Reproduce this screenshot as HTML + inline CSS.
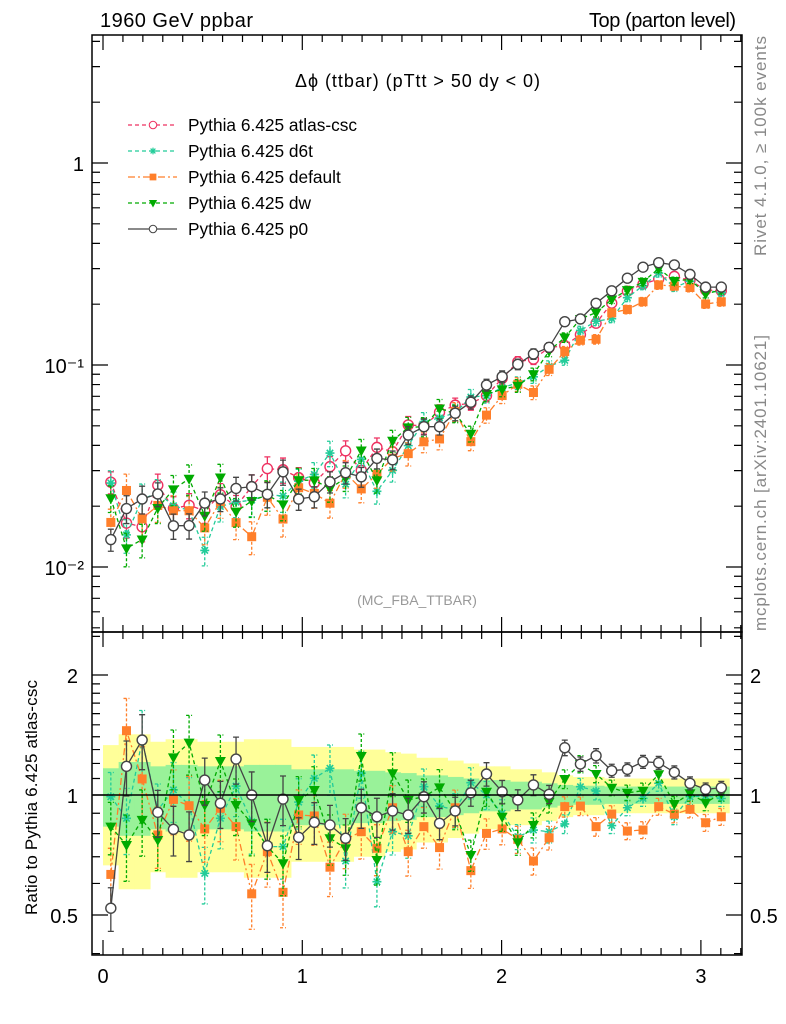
<!DOCTYPE html>
<html><head><meta charset="utf-8"><style>
html,body{margin:0;padding:0;background:#fff;}
svg{display:block;font-family:"Liberation Sans",sans-serif;}
</style></head><body>
<svg id="c" width="786" height="1024" viewBox="0 0 786 1024" xmlns="http://www.w3.org/2000/svg">
<defs>
<clipPath id="clipMain"><rect x="92" y="35" width="650" height="597"/></clipPath>
<clipPath id="clipRatio"><rect x="92" y="632" width="650" height="323"/></clipPath>
</defs>
<g id="bands" clip-path="url(#clipRatio)"></g>
<g id="marks"></g>
<g id="axes"></g>
<text x="100" y="27" font-size="20" textLength="153">1960 GeV ppbar</text>
<text x="589" y="27" font-size="20" textLength="147">Top (parton level)</text>
<text x="295" y="87" font-size="18" textLength="245">Δϕ (ttbar) (pTtt &gt; 50 dy &lt; 0)</text>
<text x="417" y="605" font-size="14" fill="#999" text-anchor="middle">(MC_FBA_TTBAR)</text>
<text transform="translate(766,256) rotate(-90)" font-size="17" fill="#888" textLength="220">Rivet 4.1.0, ≥ 100k events</text>
<text transform="translate(766,631) rotate(-90)" font-size="17" fill="#888" textLength="296">mcplots.cern.ch [arXiv:2401.10621]</text>
<text transform="translate(37,915) rotate(-90)" font-size="17" textLength="235">Ratio to Pythia 6.425 atlas-csc</text>
<g id="legend"></g>
</svg>
<script>
const categories = Array.from({length:40},(_,i)=>(i+0.5)*Math.PI/40);
const atlasValues = [0.0263,0.0165,0.0158,0.0254,0.0195,0.0202,0.019,0.0228,0.0199,0.025,0.0307,0.0303,0.0277,0.0261,0.0314,0.0376,0.0301,0.0391,0.0372,0.0505,0.050,0.0583,0.0633,0.0646,0.0705,0.0859,0.1037,0.107,0.1219,0.1247,0.1413,0.161,0.2024,0.2319,0.2517,0.2664,0.2746,0.2626,0.2352,0.233];
const atlasErr = [0.167,0.21,0.21,0.18,0.19,0.19,0.18,0.18,0.18,0.19,0.19,0.19,0.16,0.16,0.16,0.16,0.15,0.15,0.14,0.135,0.12,0.12,0.11,0.10,0.09,0.09,0.08,0.08,0.07,0.06,0.055,0.055,0.05,0.05,0.05,0.05,0.05,0.05,0.05,0.05];
const ratioP0 = [0.52,1.18,1.374,0.905,0.82,0.794,1.09,0.953,1.231,1.0,0.746,0.977,0.783,0.854,0.841,0.779,0.929,0.882,0.912,0.891,0.99,0.849,0.912,1.013,1.129,1.019,0.972,1.06,1.004,1.314,1.196,1.255,1.151,1.16,1.212,1.205,1.14,1.07,1.033,1.043];
const ratioDefault = [0.632,1.45,1.097,0.794,0.975,0.94,0.822,0.926,0.833,0.565,0.721,0.57,0.891,0.886,0.659,0.774,0.809,0.735,0.929,0.721,0.833,0.738,0.929,0.646,0.801,0.822,0.774,0.683,0.781,0.935,0.938,0.833,0.896,0.812,0.817,0.935,0.895,0.921,0.852,0.882];
const ratioDw = [0.833,0.749,0.866,0.771,1.243,1.353,0.944,1.217,0.944,0.849,0.742,0.674,0.972,1.029,0.779,0.735,1.253,0.687,1.134,0.972,0.99,1.045,0.908,0.707,1.019,0.882,0.761,0.841,0.962,1.097,1.196,1.129,1.043,1.013,1.025,1.127,0.949,1.01,0.956,1.01];
const ratioD6t = [0.99,0.874,1.37,0.917,1.03,0.944,0.636,0.874,1.053,0.857,0.742,0.742,0.96,1.101,1.167,0.683,1.134,0.606,0.809,0.79,1.049,0.938,0.917,1.074,1.0,0.9,0.786,0.817,0.809,0.846,1.049,1.023,0.838,0.929,0.981,1.07,0.882,0.99,0.995,0.98];
const xTickLabels = ["0","1","2","3"];
const mainTickLabels = ["10⁻²","10⁻¹","1"];
const ratioTickLabels = ["0.5","1","2"];

const NS="http://www.w3.org/2000/svg";
function el(tag, attrs, parent){const e=document.createElementNS(NS,tag);for(const k in attrs)e.setAttribute(k,attrs[k]);if(parent)parent.appendChild(e);return e;}
const X0=103, XS=199.3;
const xPx = v => X0 + v*XS;
const yMain = v => 163 - Math.log10(v)*202;
const yRatio = v => 795 - Math.log10(v)*398.6;
const L=92,R=742,T=35,MB=632,B=955;

const bands=document.getElementById('bands');
const hw=(Math.PI/40)*XS/2;
categories.forEach((c,i)=>{
  const e=atlasErr[i];
  const y1=el('rect',{x:xPx(c)-hw,width:2*hw+0.6,y:yRatio(1+2*e),height:yRatio(Math.max(1-2*e,0.05))-yRatio(1+2*e),fill:'#ffff99'},bands);
  
  
});
categories.forEach((c,i)=>{
  const e=atlasErr[i];
  const g1=el('rect',{x:xPx(c)-hw,width:2*hw+0.6,y:yRatio(1+e),height:yRatio(1-e)-yRatio(1+e),fill:'#99f299'},bands);
  
  
});

const series=[
 {name:'atlas-csc',ratio:null,color:'#ee3060',dash:'4,3',marker:'circle',ek:1.0,inRatio:false},
 {name:'d6t',ratio:ratioD6t,color:'#22cc99',dash:'4,3',marker:'star',ek:1.2,inRatio:true},
 {name:'default',ratio:ratioDefault,color:'#ff7f2a',dash:'7,3,2,3',marker:'square',ek:1.3,inRatio:true},
 {name:'dw',ratio:ratioDw,color:'#00aa00',dash:'4,3',marker:'tri',ek:1.2,inRatio:true},
 {name:'p0',ratio:ratioP0,color:'#444444',dash:null,marker:'circle',ek:1.0,inRatio:true}
];
function marker(g,type,x,y,color){
  let m;
  if(type==='circle') m=el('circle',{cx:x,cy:y,r:5,fill:'#fff',stroke:color,'stroke-width':1.4},g);
  else if(type==='square') m=el('rect',{x:x-4.5,y:y-4.5,width:9,height:9,fill:color},g);
  else if(type==='tri') m=el('path',{d:`M${x-5.5},${y-4} L${x+5.5},${y-4} L${x},${y+6} Z`,fill:color},g);
  else { m=el('path',{d:`M${x-4.5},${y} L${x+4.5},${y} M${x},${y-4.5} L${x},${y+4.5} M${x-3.2},${y-3.2} L${x+3.2},${y+3.2} M${x-3.2},${y+3.2} L${x+3.2},${y-3.2}`,stroke:color,'stroke-width':1.6,fill:'none'},g);}
  return m;
}
const marks=document.getElementById('marks');
function drawSeries(s, panel){
  const g=el('g',{'clip-path':panel==='main'?'url(#clipMain)':'url(#clipRatio)'},marks);
  
  
  const vals=categories.map((c,i)=>panel==='main'?atlasValues[i]*(s.ratio?s.ratio[i]:1):s.ratio[i]);
  const yf=panel==='main'?yMain:yRatio;
  const pts=categories.map((c,i)=>[xPx(c),yf(vals[i])]);
  const line=el('polyline',{points:pts.map(p=>p.join(',')).join(' '),fill:'none',stroke:s.color,'stroke-width':1.3},g);
  if(s.dash) line.setAttribute('stroke-dasharray',s.dash);
  
  
  categories.forEach((c,i)=>{
    const e=atlasErr[i]*s.ek*0.75;
    const x=xPx(c), yt=yf(vals[i]*(1+e)), yb=yf(vals[i]*Math.max(1-e,0.05));
    const eb=el('path',{d:`M${x},${yt} L${x},${yb} M${x-3},${yt} L${x+3},${yt} M${x-3},${yb} L${x+3},${yb}`,stroke:s.color,'stroke-width':1.3,fill:'none'},g);
    if(s.dash) eb.setAttribute('stroke-dasharray',s.marker==='circle'?'':'3,2');
    
    
    const m=marker(g,s.marker,x,yf(vals[i]),s.color);
    
    
  });
}
series.forEach(s=>drawSeries(s,'main'));
series.filter(s=>s.inRatio).forEach(s=>drawSeries(s,'ratio'));

const axes=document.getElementById('axes');
const one=el('line',{x1:L,x2:R,y1:yRatio(1),y2:yRatio(1),stroke:'#000','stroke-width':1.4},axes);


const f1=el('rect',{x:L,y:T,width:R-L,height:MB-T,fill:'none',stroke:'#000','stroke-width':1.5},axes);


const f2=el('rect',{x:L,y:MB,width:R-L,height:B-MB,fill:'none',stroke:'#000','stroke-width':1.5},axes);


let tp='';
for(let k=0;k<=32;k++){const v=k/10;const x=xPx(v);if(x>R)break;const len=(k%10===0)?15:7;
  tp+=`M${x},${B} L${x},${B-len} M${x},${MB} L${x},${MB+len} M${x},${MB} L${x},${MB-len} M${x},${T} L${x},${T+len} `;}
for(let d=-3;d<=0;d++){for(let m=1;m<=9;m++){const v=m*Math.pow(10,d);const y=yMain(v);if(y<T||y>MB)continue;const len=m===1?16:8;
  tp+=`M${L},${y} L${L+len},${y} M${R},${y} L${R-len},${y} `;}}
const rt=[0.4,0.5,0.6,0.7,0.8,0.9,1,1.1,1.2,1.3,1.4,1.5,1.6,1.7,1.8,1.9,2,2.5];
rt.forEach(v=>{const y=yRatio(v);if(y<MB||y>B)return;const len=(v===0.5||v===1||v===2)?16:8;
  tp+=`M${L},${y} L${L+len},${y} M${R},${y} L${R-len},${y} `;});
const ticks=el('path',{d:tp,stroke:'#000','stroke-width':1.2,fill:'none'},axes);


xTickLabels.forEach((t,i)=>{const tx=el('text',{x:xPx(i),y:983,'font-size':20,'text-anchor':'middle'},axes);tx.textContent=t;
  
  });
[0.01,0.1,1].forEach((v,i)=>{const tx=el('text',{x:84,y:yMain(v)+8,'font-size':20,'text-anchor':'end'},axes);tx.textContent=mainTickLabels[i];
  
  });
[0.5,1,2].forEach((v,i)=>{
  const a=el('text',{x:78,y:yRatio(v)+8,'font-size':20,'text-anchor':'end'},axes);a.textContent=ratioTickLabels[i];
  
  
  const b=el('text',{x:750,y:yRatio(v)+8,'font-size':20},axes);b.textContent=ratioTickLabels[i];
  
  });

const lg=document.getElementById('legend');
series.forEach((s,i)=>{
  const y=125+i*26;
  const g=el('g',{},lg);
  
  
  const ln=el('line',{x1:128,x2:177,y1:y,y2:y,stroke:s.color,'stroke-width':1.3},g);
  if(s.dash) ln.setAttribute('stroke-dasharray',s.dash);
  marker(g,s.marker,153,y,s.color).setAttribute('transform',`translate(${153*0.25},${y*0.25}) scale(0.75)`);
  const t=el('text',{x:188,y:y+6,'font-size':17.3},g);t.textContent='Pythia 6.425 '+s.name;
});
</script>
</body></html>
